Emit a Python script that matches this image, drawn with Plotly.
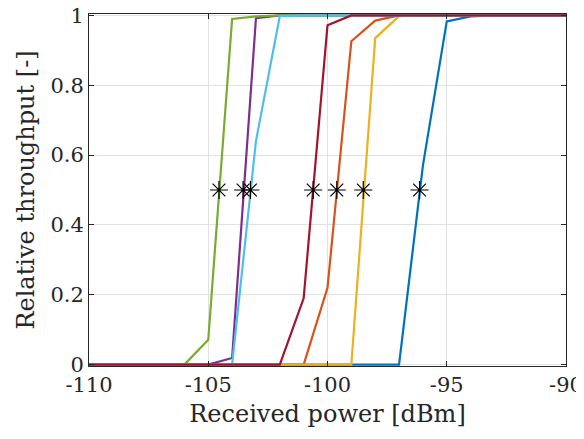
import plotly.graph_objects as go

# Received power grid (dBm)
power = [-110, -109, -108, -107, -106, -105, -104, -103, -102, -101, -100,
         -99, -98, -97, -96, -95, -94, -93, -92, -91, -90]

# Relative throughput per curve (MATLAB default colour order)
s_blue = [0, 0, 0, 0, 0, 0, 0, 0, 0, 0, 0, 0, 0, 0, 0.57, 0.983, 0.997, 1, 1, 1, 1]
s_orange = [0, 0, 0, 0, 0, 0, 0, 0, 0, 0, 0.22, 0.926, 0.985, 1, 1, 1, 1, 1, 1, 1, 1]
s_yellow = [0, 0, 0, 0, 0, 0, 0, 0, 0, 0, 0, 0, 0.935, 0.998, 1, 1, 1, 1, 1, 1, 1]
s_purple = [0, 0, 0, 0, 0, 0, 0.019, 0.992, 1, 1, 1, 1, 1, 1, 1, 1, 1, 1, 1, 1, 1]
s_green = [0, 0, 0, 0, 0, 0.071, 0.99, 0.997, 1, 1, 1, 1, 1, 1, 1, 1, 1, 1, 1, 1, 1]
s_lightblue = [0, 0, 0, 0, 0, 0, 0, 0.64, 0.998, 1, 1, 1, 1, 1, 1, 1, 1, 1, 1, 1, 1]
s_darkred = [0, 0, 0, 0, 0, 0, 0, 0, 0, 0.19, 0.972, 1, 1, 1, 1, 1, 1, 1, 1, 1, 1]

# 50 % throughput points (asterisks)
half_x = [-104.55, -103.54, -103.23, -100.6, -99.61, -98.5, -96.14]
half_y = [0.5, 0.5, 0.5, 0.5, 0.5, 0.5, 0.5]

series = [
    (s_blue, "rgb(0,114,189)"),
    (s_orange, "rgb(217,83,25)"),
    (s_yellow, "rgb(237,177,32)"),
    (s_purple, "rgb(126,47,142)"),
    (s_green, "rgb(119,172,48)"),
    (s_lightblue, "rgb(77,190,238)"),
    (s_darkred, "rgb(162,20,47)"),
]

fig = go.Figure()
for ys, col in series:
    fig.add_trace(go.Scatter(x=power, y=ys, mode="lines",
                             line=dict(color=col, width=2.2), showlegend=False))

fig.add_trace(go.Scatter(x=half_x, y=half_y, mode="markers", showlegend=False,
                         marker=dict(symbol="asterisk-open", size=15,
                                     color="black", line=dict(color="black", width=1.2))))

font_family = "DejaVu Serif, serif"
axcol = "rgb(38,38,38)"
pad = 0.004

fig.update_layout(
    width=576, height=431,
    margin=dict(l=81, r=18, t=6, b=73, autoexpand=False),
    paper_bgcolor="white", plot_bgcolor="white",
    font=dict(family=font_family, size=21, color=axcol),
    xaxis=dict(range=[-110, -90], tickvals=[-110, -105, -100, -95, -90],
               ticktext=["-110", "-105", "-100", "-95", "-90"],
               automargin=False, ticklabeloverflow="allow",
               showgrid=True, gridcolor="rgb(225,225,225)", gridwidth=1,
               showline=True, linecolor=axcol, linewidth=1, mirror="ticks",
               ticks="inside", ticklen=5, tickcolor=axcol, zeroline=False,
               tickfont=dict(size=21, color=axcol),
               title=dict(text="Received power [dBm]", standoff=8,
                          font=dict(size=24, color=axcol))),
    yaxis=dict(range=[-pad, 1 + pad], tickvals=[0, 0.2, 0.4, 0.6, 0.8, 1],
               ticktext=["0", "0.2", "0.4", "0.6", "0.8", "1"],
               automargin=False, ticklabeloverflow="allow",
               showgrid=True, gridcolor="rgb(225,225,225)", gridwidth=1,
               showline=True, linecolor=axcol, linewidth=1, mirror="ticks",
               ticks="inside", ticklen=5, tickcolor=axcol, zeroline=False,
               tickfont=dict(size=21, color=axcol),
               title=dict(text="Relative throughput [-]", standoff=8,
                          font=dict(size=24, color=axcol))),
)

fig.write_html("out.html")
